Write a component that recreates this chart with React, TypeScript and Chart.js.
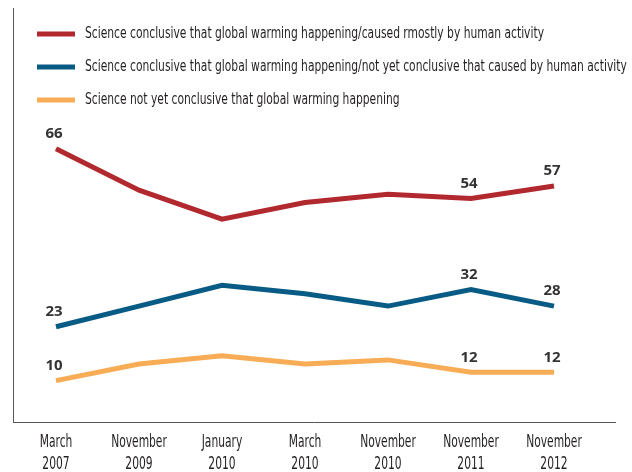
import React, { useEffect, useRef } from "react";
import { Chart, registerables } from "chart.js";

Chart.register(...registerables);

const months = ["March", "November", "January", "March", "November", "November", "November"];
const years = ["2007", "2009", "2010", "2010", "2010", "2011", "2012"];

const seriesLabels = [
  "Science conclusive that global warming happening/caused rmostly by human activity",
  "Science conclusive that global warming happening/not yet conclusive that caused by human activity",
  "Science not yet conclusive that global warming happening",
];
const humanActivity = [66, 56, 49, 53, 55, 54, 57];
const notYetHuman = [23, 28, 33, 31, 28, 32, 28];
const notYetHappening = [10, 14, 16, 14, 15, 12, 12];
const colors = ["#B1282F", "#075B84", "#F8AC55"];
const labelledPoints = [
  [0, 5, 6],
  [0, 5, 6],
  [0, 5, 6],
];

const NARROW = '"DejaVu Sans Condensed", "Liberation Sans Narrow", sans-serif';

function condensedText(ctx: any, text: string, x: number, y: number, size: number, sx: number, align: string) {
  ctx.save();
  ctx.translate(x, y);
  ctx.scale(sx, 1);
  ctx.font = size + "px " + NARROW;
  ctx.fillStyle = "#231F20";
  ctx.textBaseline = "middle";
  ctx.textAlign = align;
  ctx.fillText(text, 0, 0);
  ctx.restore();
}

const legendPlugin = {
  id: "customLegend",
  afterDraw(chart: any) {
    const { ctx, chartArea } = chart;
    ctx.save();
    chart.data.datasets.forEach((ds: any, i: number) => {
      const y = chartArea.top + 26 + i * 33;
      const x = chartArea.left + 24;
      ctx.fillStyle = ds.borderColor;
      ctx.fillRect(x, y - 2.5, 38, 5);
      condensedText(ctx, ds.label, x + 48, y, 16, 0.745, "left");
    });
    ctx.restore();
  },
};

const xLabelPlugin = {
  id: "xLabels",
  afterDraw(chart: any) {
    const { ctx } = chart;
    const scale = chart.scales.x;
    scale.ticks.forEach((t: any) => {
      const v = t.value;
      if (!Number.isInteger(v) || !months[v]) return;
      const px = scale.getPixelForValue(v);
      condensedText(ctx, months[v], px, scale.top + 21, 17, 0.7, "center");
      condensedText(ctx, years[v], px, scale.top + 43, 17, 0.7, "center");
    });
  },
};

const valueLabelPlugin = {
  id: "valueLabels",
  afterDatasetsDraw(chart: any) {
    const { ctx } = chart;
    ctx.save();
    ctx.font = 'bold 15px "Open Sans", "DejaVu Sans", sans-serif';
    ctx.fillStyle = "#333333";
    ctx.textAlign = "center";
    ctx.textBaseline = "middle";
    chart.data.datasets.forEach((ds: any, di: number) => {
      const meta = chart.getDatasetMeta(di);
      labelledPoints[di].forEach((idx) => {
        const pt = meta.data[idx];
        const v = ds.data[idx].y;
        ctx.fillText(String(v), pt.x - 2, pt.y - 15);
      });
    });
    ctx.restore();
  },
};

export default function App() {
  const ref = useRef<HTMLCanvasElement>(null);
  useEffect(() => {
    if (!ref.current) return;
    const series = [humanActivity, notYetHuman, notYetHappening];
    const chart = new Chart(ref.current, {
      type: "line",
      data: {
        datasets: series.map((vals, i) => ({
          label: seriesLabels[i],
          data: vals.map((v, j) => ({ x: j, y: v })),
          borderColor: colors[i],
          backgroundColor: colors[i],
          borderWidth: 5,
          pointRadius: 0,
          tension: 0,
          borderJoinStyle: "miter" as const,
          borderCapStyle: "butt" as const,
        })),
      },
      options: {
        responsive: false,
        animation: false,
        layout: { padding: { top: 8, left: 13, right: 17, bottom: 0 } },
        plugins: { legend: { display: false }, tooltip: { enabled: false } },
        scales: {
          x: {
            type: "linear",
            min: -0.518,
            max: 6.735,
            grid: { display: false, drawTicks: false },
            border: { display: true, color: "#555555", width: 1 },
            afterFit: (scale: any) => {
              scale.height = 50;
              scale.paddingLeft = 0;
              scale.paddingRight = 0;
            },
            ticks: {
              display: false,
              stepSize: 1,
              includeBounds: false,
              autoSkip: false,
              maxRotation: 0,
            },
          },
          y: {
            min: 0,
            max: 100,
            grid: { display: false, drawTicks: false },
            border: { display: true, color: "#555555", width: 1 },
            ticks: { display: false },
          },
        },
      },
      plugins: [legendPlugin, xLabelPlugin, valueLabelPlugin],
    });
    return () => chart.destroy();
  }, []);
  return (
    <div style={{ position: "absolute", left: 0, top: 0, width: 632, height: 472, background: "#fff" }}>
      <canvas ref={ref} width={632} height={472} style={{ display: "block" }} />
    </div>
  );
}
